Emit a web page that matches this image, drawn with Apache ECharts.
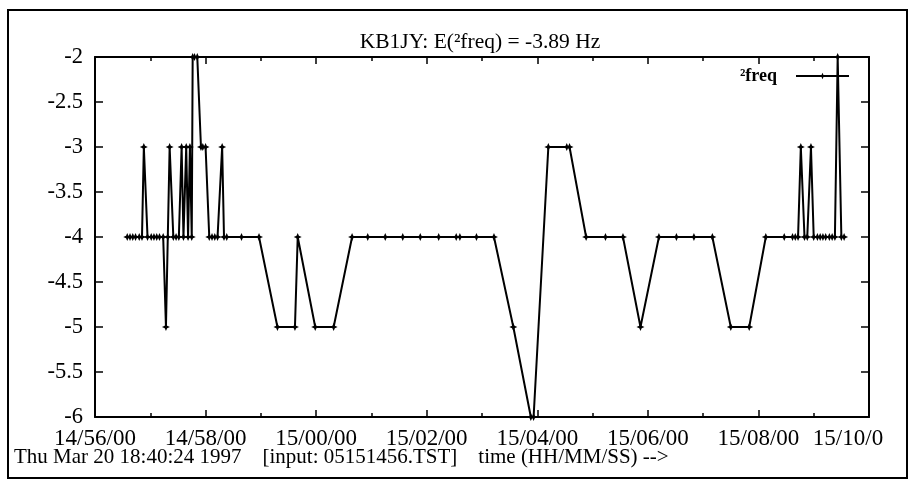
<!DOCTYPE html>
<html>
<head>
<meta charset="utf-8">
<script src="https://cdn.jsdelivr.net/npm/echarts@6/dist/echarts.min.js"></script>
<style>
    html, body { margin: 0; padding: 0; background: #fff; }
    #chart { width: 912px; height: 494px; }
</style>
</head>
<body>
<div id="chart"></div>
<script>
// sample times (HH:MM:SS) and ²freq values (Hz)
const times = [
    "14:56:35", "14:56:38", "14:56:41", "14:56:44", "14:56:48", "14:56:51", "14:56:53", "14:56:57",
    "14:57:01", "14:57:04", "14:57:07", "14:57:10", "14:57:14", "14:57:17", "14:57:19", "14:57:21",
    "14:57:25", "14:57:28", "14:57:31", "14:57:34", "14:57:36", "14:57:39", "14:57:41", "14:57:43",
    "14:57:45", "14:57:46", "14:57:48", "14:57:51", "14:57:55", "14:57:57", "14:58:00", "14:58:04",
    "14:58:07", "14:58:10", "14:58:13", "14:58:18", "14:58:20", "14:58:23", "14:58:39", "14:58:58",
    "14:59:18", "14:59:37", "14:59:40", "14:59:59", "15:00:19", "15:00:39", "15:00:56", "15:01:15",
    "15:01:34", "15:01:53", "15:02:13", "15:02:32", "15:02:36", "15:02:54", "15:03:13", "15:03:34",
    "15:03:53", "15:03:56", "15:04:12", "15:04:32", "15:04:35", "15:04:53", "15:05:14", "15:05:33",
    "15:05:52", "15:06:12", "15:06:31", "15:06:50", "15:07:10", "15:07:30", "15:07:50", "15:08:08",
    "15:08:28", "15:08:37", "15:08:40", "15:08:43", "15:08:46", "15:08:50", "15:08:53", "15:08:57",
    "15:09:00", "15:09:04", "15:09:07", "15:09:10", "15:09:13", "15:09:17", "15:09:20", "15:09:23",
    "15:09:26", "15:09:30", "15:09:33",
];
const freq = [
    -4, -4, -4, -4, -4, -4, -3, -4,
    -4, -4, -4, -4, -4, -5, -4, -3,
    -4, -4, -4, -3, -4, -3, -4, -3,
    -4, -2, -2, -2, -3, -3, -3, -4,
    -4, -4, -4, -3, -4, -4, -4, -4,
    -5, -5, -4, -5, -5, -4, -4, -4,
    -4, -4, -4, -4, -4, -4, -4, -5,
    -6, -6, -3, -3, -3, -4, -4, -4,
    -5, -4, -4, -4, -4, -5, -5, -4,
    -4, -4, -4, -4, -3, -4, -4, -3,
    -4, -4, -4, -4, -4, -4, -4, -4,
    -2, -4, -4,
];
const yTicks = [-6, -2, 0.5];
const titleText = "KB1JY: E(²freq) = -3.89 Hz";
const seriesName = "²freq";
const footer = "Thu Mar 20 18:40:24 1997    [input: 05151456.TST]    time (HH/MM/SS) -->";

// x axis runs from 14:56:00 to 15:10:00, in seconds
const START = 14 * 3600 + 56 * 60;
const toSec = (s) => {
    const [h, m, ss] = s.split(":").map(Number);
    return h * 3600 + m * 60 + ss - START;
};
const pad = (n) => String(n).padStart(2, "0");
const fmtTime = (v) => {
    const t = START + v;
    const label = `${pad(Math.floor(t / 3600))}/${pad(Math.floor(t / 60) % 60)}/${pad(t % 60)}`;
    // the last label is cut off in the original, and pushed left
    return v >= 840 ? `{cut|${label.slice(0, -1)}}` : label;
};

const FONT = "'Liberation Serif', 'DejaVu Serif', serif";

const axisCommon = {
    axisLine: { show: true, onZero: false, lineStyle: { color: "#000", width: 2 } },
    axisTick: { show: true, inside: true, lineStyle: { color: "#000", width: 1.5 } },
    splitLine: { show: false },
};

const option = {
    animation: false,
    backgroundColor: "#fff",
    title: {
        text: titleText,
        left: 475,
        textAlign: "center",
        top: 26,
        textStyle: { fontFamily: FONT, fontSize: 21.5, fontWeight: "normal", color: "#000" },
    },
    legend: {
        data: [seriesName],
        right: 62,
        top: 67,
        padding: 0,
        align: "right",
        itemWidth: 53,
        itemHeight: 8,
        textStyle: {
            fontFamily: FONT, fontSize: 18, fontWeight: "bold", color: "#000",
            padding: [0, 14, 0, 0],
        },
    },
    grid: { left: 95, right: 43, top: 57, bottom: 77 },
    xAxis: [
        {
            ...axisCommon,
            type: "value",
            position: "bottom",
            min: 0,
            max: 840,
            interval: 120,
            axisTick: { ...axisCommon.axisTick, length: 7 },
            minorTick: { show: true, splitNumber: 2, length: 4, lineStyle: { color: "#000", width: 1.5 } },
            axisLabel: {
                formatter: fmtTime,
                margin: 10,
                fontFamily: FONT,
                fontSize: 23,
                color: "#000",
                rich: {
                    cut: { fontFamily: FONT, fontSize: 23, color: "#000", padding: [0, 42, 0, 0] },
                },
            },
        },
        {
            ...axisCommon,
            type: "value",
            position: "top",
            min: 0,
            max: 840,
            interval: 120,
            axisTick: { ...axisCommon.axisTick, length: 7 },
            minorTick: { show: true, splitNumber: 2, length: 4, lineStyle: { color: "#000", width: 1.5 } },
            axisLabel: { show: false },
        },
    ],
    yAxis: [
        {
            ...axisCommon,
            type: "value",
            position: "left",
            min: yTicks[0],
            max: yTicks[1],
            interval: yTicks[2],
            axisTick: { ...axisCommon.axisTick, length: 8 },
            axisLabel: { margin: 12, fontFamily: FONT, fontSize: 22.5, color: "#000" },
        },
        {
            ...axisCommon,
            type: "value",
            position: "right",
            min: yTicks[0],
            max: yTicks[1],
            interval: yTicks[2],
            axisTick: { ...axisCommon.axisTick, length: 8 },
            axisLabel: { show: false },
        },
    ],
    series: [
        {
            name: seriesName,
            type: "line",
            xAxisIndex: 0,
            yAxisIndex: 0,
            data: times.map((t, i) => [toSec(t), freq[i]]),
            symbol: "path://M0,-10L3,-3L10,0L3,3L0,10L-3,3L-10,0L-3,-3Z",
            symbolSize: 8,
            showAllSymbol: true,
            lineStyle: { color: "#000", width: 2 },
            itemStyle: { color: "#000" },
        },
    ],
    graphic: [
        {
            type: "rect",
            shape: { x: 8, y: 10, width: 899, height: 468 },
            style: { fill: "none", stroke: "#000", lineWidth: 2 },
            silent: true,
        },
        {
            type: "text", left: 14, top: 447,
            style: { text: footer, font: `21px ${FONT}`, fill: "#000" },
        },
    ],
};

const chart = echarts.init(document.getElementById("chart"));
chart.setOption(option);
</script>
</body>
</html>
